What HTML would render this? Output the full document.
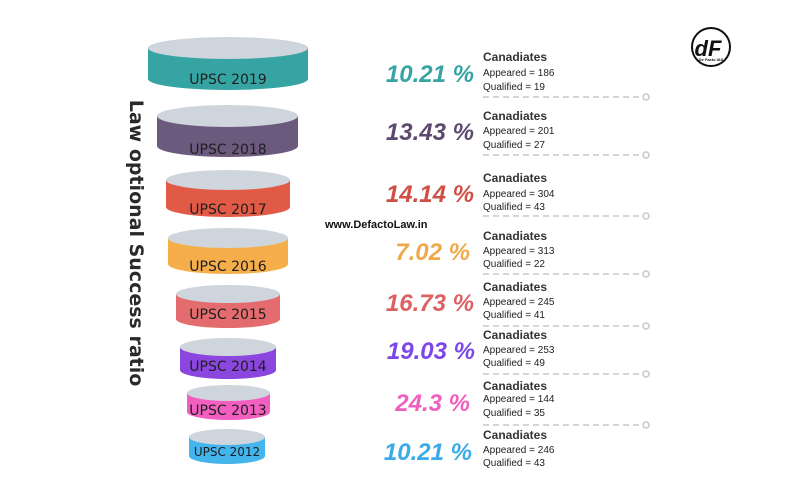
<!DOCTYPE html>
<html><head><style>
html,body{margin:0;padding:0;background:#fff;}
svg{display:block;}
.cy{font-family:"DejaVu Sans","Liberation Sans",sans-serif;font-size:14px;fill:#1e1e1e;text-anchor:middle;}
.pc{font-family:"Liberation Sans",sans-serif;font-weight:bold;font-style:italic;font-size:24px;text-anchor:end;}
.h{font-family:"Liberation Sans",sans-serif;font-weight:bold;font-size:12px;fill:#333;}
.s{font-family:"Liberation Sans",sans-serif;font-size:10px;fill:#222;}
</style></head><body>
<svg width="800" height="480" viewBox="0 0 800 480" xmlns="http://www.w3.org/2000/svg">
<rect width="800" height="480" fill="#fff"/>
<g>
<path d="M148 48 V79 A80 11 0 0 0 308 79 V48 Z" fill="#37a4a4"/><ellipse cx="228" cy="48" rx="80" ry="11" fill="#cfd5dc"/>
<text class="cy" x="228" y="84">UPSC 2019</text>
<path d="M157 116 V146 A70.5 11 0 0 0 298 146 V116 Z" fill="#6b5a7e"/><ellipse cx="227.5" cy="116" rx="70.5" ry="11" fill="#cfd5dc"/>
<text class="cy" x="228" y="154">UPSC 2018</text>
<path d="M166 180 V207 A62 10 0 0 0 290 207 V180 Z" fill="#e05a46"/><ellipse cx="228" cy="180" rx="62" ry="10" fill="#cfd5dc"/>
<text class="cy" x="228" y="214">UPSC 2017</text>
<path d="M168 238 V264 A60 10 0 0 0 288 264 V238 Z" fill="#f6ae4a"/><ellipse cx="228" cy="238" rx="60" ry="10" fill="#cfd5dc"/>
<text class="cy" x="228" y="271">UPSC 2016</text>
<path d="M176 294 V319 A52 9 0 0 0 280 319 V294 Z" fill="#e46c6e"/><ellipse cx="228" cy="294" rx="52" ry="9" fill="#cfd5dc"/>
<text class="cy" x="228" y="319">UPSC 2015</text>
<path d="M180 347 V370 A48 9 0 0 0 276 370 V347 Z" fill="#8c46e0"/><ellipse cx="228" cy="347" rx="48" ry="9" fill="#cfd5dc"/>
<text class="cy" x="228" y="371">UPSC 2014</text>
<path d="M187 393 V412 A41.5 8 0 0 0 270 412 V393 Z" fill="#f25fc1"/><ellipse cx="228.5" cy="393" rx="41.5" ry="8" fill="#cfd5dc"/>
<text class="cy" x="228" y="415">UPSC 2013</text>
<path d="M189 437 V456 A38 8 0 0 0 265 456 V437 Z" fill="#43b4ec"/><ellipse cx="227" cy="437" rx="38" ry="8" fill="#cfd5dc"/>
<text class="cy" x="227" y="456" style="font-size:12px">UPSC 2012</text>
</g>
<text transform="translate(130,243) rotate(90)" text-anchor="middle" style="font-family:'DejaVu Sans','Liberation Sans',sans-serif;font-weight:bold;font-size:19px;fill:#2a2a2a">Law optional Success ratio</text>
<text x="325" y="228" style="font-family:'Liberation Sans',sans-serif;font-weight:bold;font-size:11px;fill:#111">www.DefactoLaw.in</text>
<text class="pc" x="474" y="82" fill="#37a4a4">10.21 %</text>
<text class="pc" x="474" y="140" fill="#5c4a6e">13.43 %</text>
<text class="pc" x="474" y="202" fill="#cf4f44">14.14 %</text>
<text class="pc" x="470" y="260" fill="#f0a94a">7.02 %</text>
<text class="pc" x="474" y="311" fill="#dc6163">16.73 %</text>
<text class="pc" x="475" y="359" fill="#7c46e8">19.03 %</text>
<text class="pc" x="470" y="411" fill="#f05fbd">24.3 %</text>
<text class="pc" x="472" y="460" fill="#3aaae8">10.21 %</text>
<g>
<text class="h" x="483" y="61">Canadiates</text><text class="s" x="483" y="76">Appeared = 186</text><text class="s" x="483" y="90">Qualified = 19</text>
<text class="h" x="483" y="120">Canadiates</text><text class="s" x="483" y="134">Appeared = 201</text><text class="s" x="483" y="148">Qualified = 27</text>
<text class="h" x="483" y="182">Canadiates</text><text class="s" x="483" y="197">Appeared = 304</text><text class="s" x="483" y="210">Qualified = 43</text>
<text class="h" x="483" y="240">Canadiates</text><text class="s" x="483" y="254">Appeared = 313</text><text class="s" x="483" y="267">Qualified = 22</text>
<text class="h" x="483" y="291">Canadiates</text><text class="s" x="483" y="305">Appeared = 245</text><text class="s" x="483" y="318">Qualified = 41</text>
<text class="h" x="483" y="339">Canadiates</text><text class="s" x="483" y="353">Appeared = 253</text><text class="s" x="483" y="366">Qualified = 49</text>
<text class="h" x="483" y="390">Canadiates</text><text class="s" x="483" y="402">Appeared = 144</text><text class="s" x="483" y="416">Qualified = 35</text>
<text class="h" x="483" y="439">Canadiates</text><text class="s" x="483" y="453">Appeared = 246</text><text class="s" x="483" y="466">Qualified = 43</text>
</g>
<g stroke="#c4c8cc" stroke-width="1.5" fill="none">
<line x1="483" y1="97" x2="643" y2="97" stroke-dasharray="6,4"/><circle cx="646" cy="97" r="3" fill="#fff"/>
<line x1="483" y1="155" x2="643" y2="155" stroke-dasharray="6,4"/><circle cx="646" cy="155" r="3" fill="#fff"/>
<line x1="483" y1="216" x2="643" y2="216" stroke-dasharray="6,4"/><circle cx="646" cy="216" r="3" fill="#fff"/>
<line x1="483" y1="274" x2="643" y2="274" stroke-dasharray="6,4"/><circle cx="646" cy="274" r="3" fill="#fff"/>
<line x1="483" y1="326" x2="643" y2="326" stroke-dasharray="6,4"/><circle cx="646" cy="326" r="3" fill="#fff"/>
<line x1="483" y1="374" x2="643" y2="374" stroke-dasharray="6,4"/><circle cx="646" cy="374" r="3" fill="#fff"/>
<line x1="483" y1="425" x2="643" y2="425" stroke-dasharray="6,4"/><circle cx="646" cy="425" r="3" fill="#fff"/>
</g>
<circle cx="711" cy="47" r="19" fill="#fff" stroke="#111" stroke-width="2"/>
<text x="708" y="56" text-anchor="middle" style="font-family:'Liberation Sans',sans-serif;font-style:italic;font-weight:bold;font-size:22px;fill:#111">dF</text>
<text x="711" y="61" text-anchor="middle" style="font-family:'Liberation Sans',sans-serif;font-weight:bold;font-size:4px;fill:#111">De Facto IAS</text>
</svg>
</body></html>
